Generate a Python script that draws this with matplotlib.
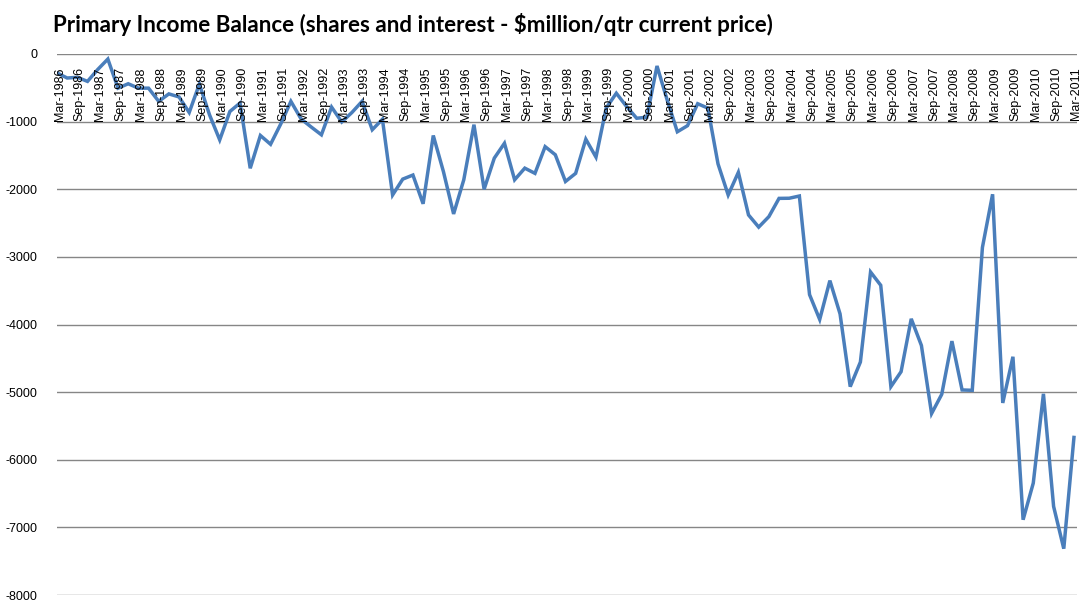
import matplotlib
matplotlib.use("Agg")
import matplotlib.pyplot as plt
import matplotlib.transforms as mtransforms
import numpy as np

title = "Primary Income Balance (shares and interest - $million/qtr current price)"

years = list(range(1986, 2012))
quarters = []
for y in years:
    for m in ["Mar", "Jun", "Sep", "Dec"]:
        quarters.append(f"{m}-{y}")
quarters = quarters[:101]  # Mar-1986 .. Mar-2011

values = [
    -280, -355, -345, -405, -230, -75, -505, -440, -505, -505,
    -700, -590, -635, -865, -445, -900, -1270, -850, -725, -1690,
    -1205, -1335, -1035, -700, -960, -1080, -1195, -785, -1005, -865,
    -700, -1120, -965, -2085, -1850, -1790, -2215, -1205, -1740, -2365,
    -1860, -1045, -2000, -1540, -1320, -1860, -1688, -1765, -1370, -1490,
    -1885, -1765, -1260, -1525, -800, -580, -775, -950, -935, -177,
    -680, -1150, -1060, -735, -800, -1625, -2085, -1750, -2380, -2560,
    -2405, -2135, -2133, -2100, -3558, -3926, -3351, -3843, -4919, -4555,
    -3224, -3420, -4919, -4698, -3916, -4310, -5317, -5032, -4246, -4968,
    -4973, -2860, -2074, -5160, -4477, -6887, -6345, -5025, -6690, -7315,
    -5670,
]

yticks = [0, -1000, -2000, -3000, -4000, -5000, -6000, -7000, -8000]

fig = plt.figure(figsize=(10.91, 6.09), dpi=100)
ax = fig.add_axes([57 / 1091, 1 - 595 / 609, (1077 - 57) / 1091, (595 - 54) / 609])

x = np.arange(len(values))
ax.plot(x, values, color="#4A7EBB", linewidth=2.5, solid_joinstyle="miter", zorder=3)

ax.set_ylim(-8000, 0)
ax.set_xlim(0, len(values) - 1 + 0.3)
ax.set_yticks(yticks)
ax.set_yticklabels([str(v) for v in yticks], fontsize=9, family="Liberation Sans")
ax.tick_params(axis="y", length=0, pad=14)
ax.set_xticks([])
ax.yaxis.grid(True, color="#868686", linewidth=1.0)
ax.set_axisbelow(True)
for s in ax.spines.values():
    s.set_visible(False)

trans = mtransforms.blended_transform_factory(ax.transData, ax.transData)
for i in range(0, len(quarters), 2):
    ax.text(i + 0.25, -590, quarters[i], rotation=90, ha="center", va="center",
            fontsize=9, family="Liberation Sans", transform=trans, zorder=4)

fig.text(53 / 1091, 1 - 24 / 609, title, fontsize=16.1, fontweight="bold",
         family="Lato", ha="left", va="center")

fig.savefig("out.png", dpi=100)
